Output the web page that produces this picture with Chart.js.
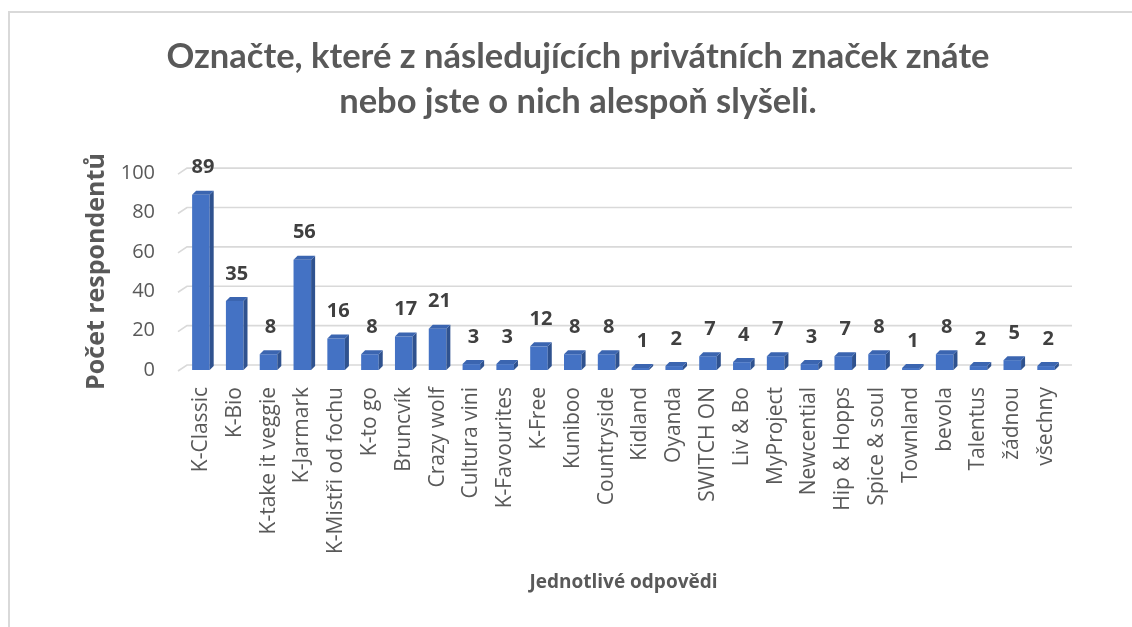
<!DOCTYPE html>
<html lang="cs">
<head>
<meta charset="utf-8">
<script src="https://cdn.jsdelivr.net/npm/chart.js@4.4.1/dist/chart.umd.min.js"></script>
<style>
html, body { margin: 0; padding: 0; background: #fff; overflow: hidden; }
#ramecek { position: absolute; left: 8px; top: 11px; width: 1200px; height: 700px; border: 2px solid #d9d9d9; box-sizing: border-box; }
#wrap { position: absolute; left: 0; top: 0; width: 1132px; height: 627px; }
</style>
</head>
<body>
<div id="ramecek"></div>
<div id="wrap"><canvas id="chartCanvas"></canvas></div>
<script>
// === Data ===
const nazevGrafu = ["Označte, které z následujících privátních značek znáte", "nebo jste o nich alespoň slyšeli."];
const odpovedi = ["K-Classic", "K-Bio", "K-take it veggie", "K-Jarmark", "K-Mistři od fochu", "K-to go", "Bruncvík", "Crazy wolf", "Cultura vini", "K-Favourites", "K-Free", "Kuniboo", "Countryside", "Kidland", "Oyanda", "SWITCH ON", "Liv & Bo", "MyProject", "Newcential", "Hip & Hopps", "Spice & soul", "Townland", "bevola", "Talentus", "žádnou", "všechny"];
const pocty = [89, 35, 8, 56, 16, 8, 17, 21, 3, 3, 12, 8, 8, 1, 2, 7, 4, 7, 3, 7, 8, 1, 8, 2, 5, 2];
const osaY = { min: 0, max: 100, krok: 20 };
const titulekY = "Počet respondentů";
const titulekX = "Jednotlivé odpovědi";

const sedaText = "#595959";
const hloubka = 4; // posun "3D" hrany sloupce

// mřížka zadní stěny + šikmé zářezy
const mrizka3d = {
  id: "mrizka3d",
  beforeDatasetsDraw(chart) {
    const { ctx, chartArea, scales } = chart;
    const y = scales.y;
    ctx.save();
    ctx.strokeStyle = "#d9d9d9";
    ctx.lineWidth = 1.6;
    y.ticks.forEach(t => {
      const py = y.getPixelForValue(t.value);
      ctx.beginPath();
      ctx.moveTo(chartArea.left - 6, py + 1);
      ctx.lineTo(chartArea.left + 3, py - 5);
      ctx.lineTo(chartArea.right + 9, py - 5);
      ctx.stroke();
    });
    ctx.restore();
  }
};

// boční a horní stěna sloupců + popisky hodnot
const sloupce3d = {
  id: "sloupce3d",
  afterDatasetsDraw(chart) {
    const { ctx } = chart;
    const meta = chart.getDatasetMeta(0);
    ctx.save();
    meta.data.forEach((bar, i) => {
      const p = bar.getProps(["x", "y", "base", "width"], true);
      const l = p.x - p.width / 2, r = p.x + p.width / 2;
      // bok
      ctx.fillStyle = "#2f528f";
      ctx.beginPath();
      ctx.moveTo(r, p.y);
      ctx.lineTo(r + hloubka, p.y - hloubka);
      ctx.lineTo(r + hloubka, p.base - hloubka);
      ctx.lineTo(r, p.base);
      ctx.closePath();
      ctx.fill();
      // vršek
      ctx.fillStyle = "#3b65b0";
      ctx.beginPath();
      ctx.moveTo(l, p.y);
      ctx.lineTo(l + hloubka, p.y - hloubka);
      ctx.lineTo(r + hloubka, p.y - hloubka);
      ctx.lineTo(r, p.y);
      ctx.closePath();
      ctx.fill();
      // hodnota
      ctx.fillStyle = "#404040";
      ctx.font = "bold 20px 'Open Sans'";
      ctx.textAlign = "center";
      ctx.textBaseline = "middle";
      ctx.fillText(String(pocty[i]), p.x + hloubka / 2, p.y - 27);
    });
    ctx.restore();
  }
};

new Chart(document.getElementById("chartCanvas"), {
  type: "bar",
  data: {
    labels: odpovedi,
    datasets: [{
      data: pocty,
      backgroundColor: "#4472c4",
      borderWidth: 0,
      barPercentage: 0.52,
      categoryPercentage: 1
    }]
  },
  options: {
    responsive: true,
    maintainAspectRatio: false,
    animation: false,
    layout: { padding: { left: 24, right: 0, top: 0, bottom: 0 } },
    plugins: {
      legend: { display: false },
      tooltip: { enabled: false },
      title: {
        display: true,
        text: nazevGrafu,
        color: sedaText,
        font: { family: "Lato", size: 34.5, weight: "bold", lineHeight: 1.32 },
        padding: { top: 34, bottom: 48 }
      }
    },
    scales: {
      x: {
        grid: { display: false, drawTicks: false },
        border: { display: false },
        ticks: {
          autoSkip: false,
          minRotation: 90,
          maxRotation: 90,
          padding: 17,
          color: sedaText,
          font: { family: "Open Sans", size: 21 }
        },
        title: {
          display: true,
          text: titulekX,
          color: sedaText,
          font: { family: "Open Sans", size: 19, weight: "bold", lineHeight: 1.2 },
          padding: { top: 0, bottom: 33 }
        },
        afterFit(scale) { scale.height = 257; }
      },
      y: {
        min: osaY.min,
        max: osaY.max,
        grid: { display: false, drawTicks: false },
        border: { display: false },
        ticks: {
          stepSize: osaY.krok,
          padding: 29,
          color: sedaText,
          font: { family: "Open Sans", size: 20 }
        },
        title: {
          display: true,
          text: titulekY,
          color: sedaText,
          font: { family: "Open Sans", size: 25, weight: "bold", lineHeight: 1.2 },
          padding: { top: 58, bottom: 0 }
        },
        afterFit(scale) { scale.width = 160; }
      },
      // prázdný pravý okraj
      okraj: {
        type: "linear",
        position: "right",
        grid: { display: false, drawTicks: false },
        border: { display: false },
        ticks: { display: false },
        afterFit(scale) { scale.width = 69; }
      }
    }
  },
  plugins: [mrizka3d, sloupce3d]
});
</script>
</body>
</html>
